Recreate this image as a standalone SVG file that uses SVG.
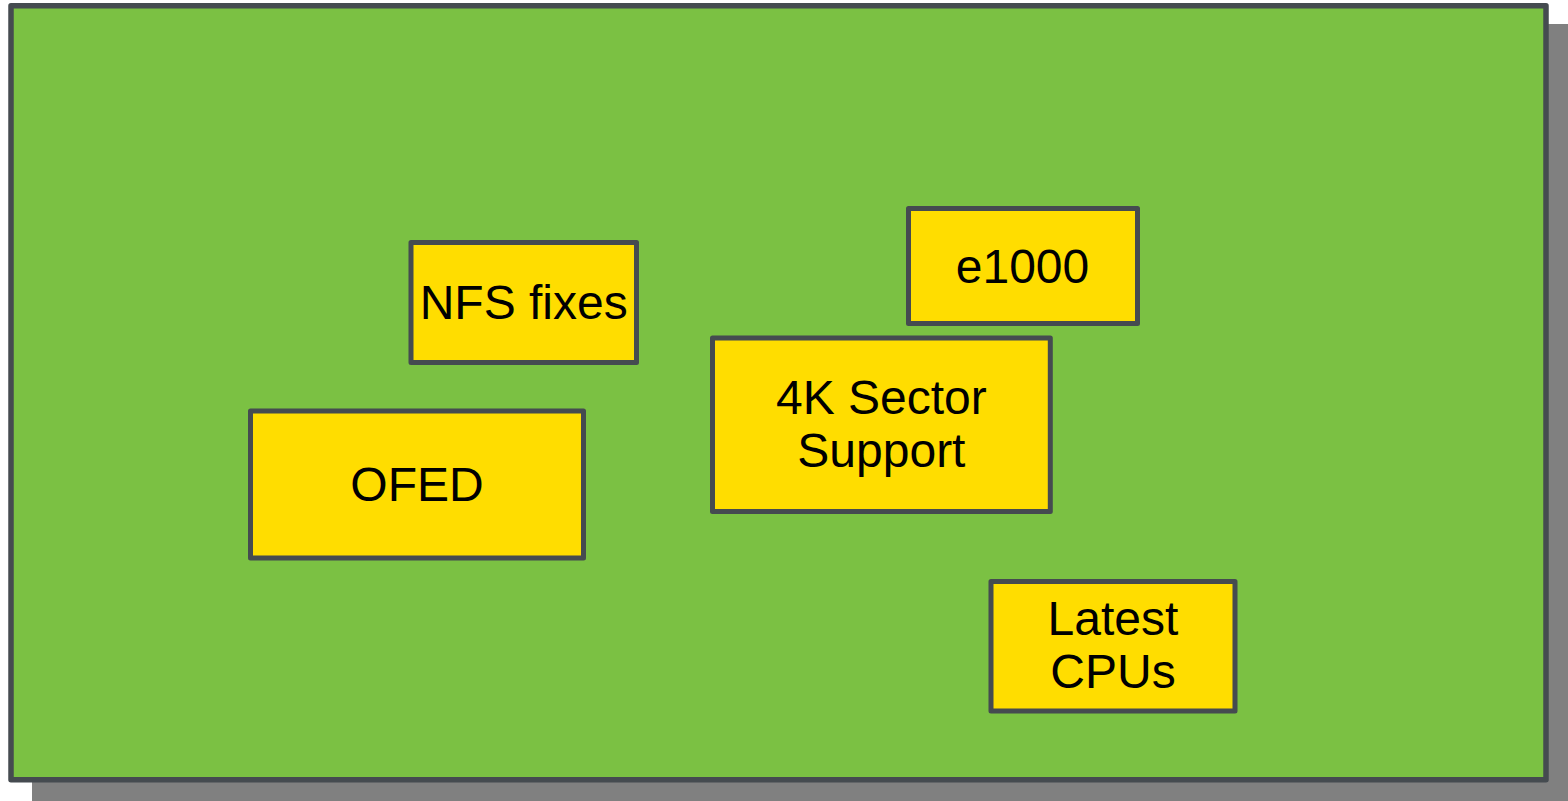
<svg xmlns="http://www.w3.org/2000/svg" width="1568" height="801" viewBox="0 0 1568 801">
  <style>
    .panel { fill: #7bc143; stroke: #454b50; stroke-width: 5.5; stroke-linejoin: round; }
    .shadow { fill: #808080; }
    .box { fill: #ffdd00; stroke: #454b50; stroke-width: 5; stroke-linejoin: round; }
    .label { font-family: "Liberation Sans", Arial, sans-serif; font-size: 48px; fill: #000; text-anchor: middle; }
  </style>
  <rect width="1568" height="801" fill="#ffffff"/>

  <!-- backdrop panel with drop shadow -->
  <g id="panel">
    <rect class="shadow" x="32" y="24" width="1560" height="800"/>
    <rect class="panel" x="11" y="5.7" width="1535" height="774"/>
  </g>

  <g id="connectors"></g>

  <g id="nfs-fixes">
    <rect class="box" x="411" y="242.5" width="225.5" height="120"/>
    <text class="label" x="523.7" y="319">NFS fixes</text>
  </g>

  <g id="e1000">
    <rect class="box" x="908.5" y="208.5" width="229" height="115"/>
    <text class="label" x="1022.5" y="282.7">e1000</text>
  </g>

  <g id="ofed">
    <rect class="box" x="250.5" y="411" width="333" height="147"/>
    <text class="label" x="417" y="500.7">OFED</text>
  </g>

  <g id="sector-4k">
    <rect class="box" x="712.5" y="338" width="337.8" height="173.5"/>
    <text class="label" x="881.4" y="414">4K Sector</text>
    <text class="label" x="881.4" y="467.3">Support</text>
  </g>

  <g id="latest-cpus">
    <rect class="box" x="991" y="581.5" width="244" height="129.5"/>
    <text class="label" x="1113" y="635">Latest</text>
    <text class="label" x="1113" y="688.3">CPUs</text>
  </g>
</svg>
